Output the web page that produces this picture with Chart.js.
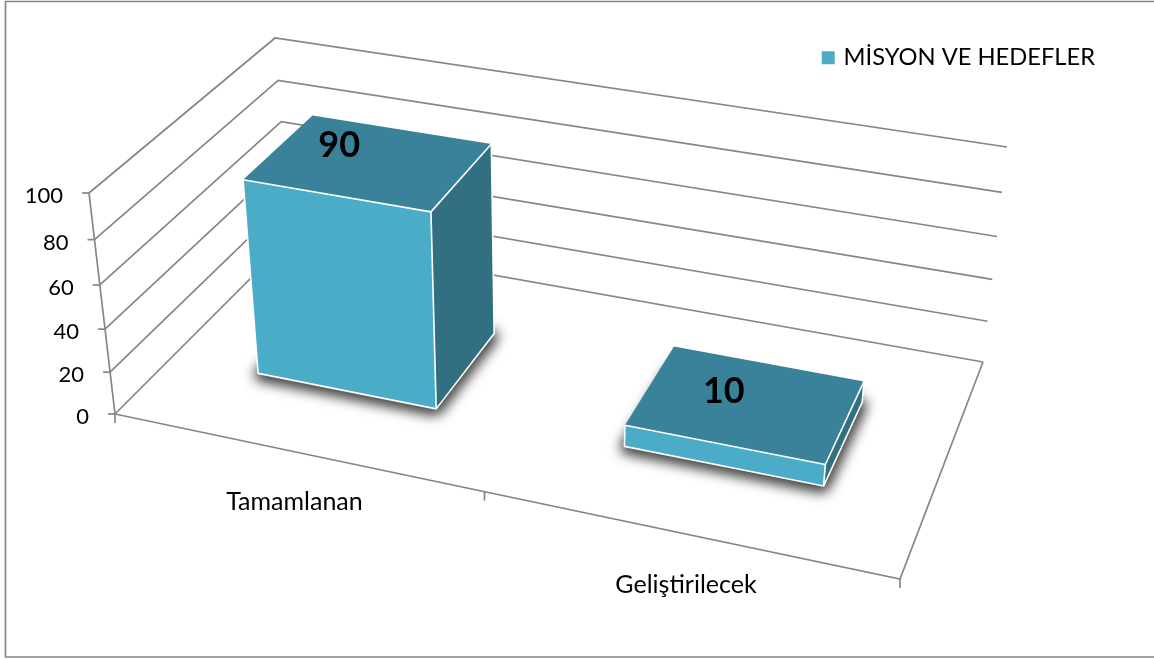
<!DOCTYPE html>
<html>
<head>
<meta charset="utf-8">
<style>html,body{margin:0;padding:0;background:#fff}canvas{display:block}</style>
<script src="https://cdn.jsdelivr.net/npm/chart.js@4"></script>
</head>
<body>
<canvas id="c" width="1154" height="659"></canvas>
<script>
const categories = ['Tamamlanan', 'Geliştirilecek'];
const seriesName = 'MİSYON VE HEDEFLER';
const seriesValues = [90, 10];
const valueTicks = [0, 20, 40, 60, 80, 100];

/* layout of the perspective box: where the corners of the plot box land on the page */
const FLOOR = [[115,414],[900,579],[983,362],[290,239]];
const CEIL  = [[89,193],[926,341],[1007,147],[275,38]];
const PERSPECTIVE_C = -0.065;
const DEPTH = [0.30, 0.70];
const LABEL_SHIFT = [[-30,-16],[-22.5,-12]];
const GRID = '#868686', FRONT = '#4AACC6', TOP = '#3A8299', SIDE = '#326F80';
const FONT = 'Lato, "Open Sans", sans-serif';

function homography(q) {
  const [[x0,y0],[x1,y1],[x2,y2],[x3,y3]] = q;
  const dx1=x1-x2, dx2=x3-x2, sx=x0-x1+x2-x3, dy1=y1-y2, dy2=y3-y2, sy=y0-y1+y2-y3;
  const det=dx1*dy2-dx2*dy1;
  const g=(sx*dy2-dx2*sy)/det, h=(dx1*sy-sx*dy1)/det;
  const a=x1-x0+g*x1, b=x3-x0+h*x3, d=y1-y0+g*y1, e=y3-y0+h*y3;
  return (u,v)=>{const z=g*u+h*v+1;return [(a*u+b*v+x0)/z,(d*u+e*v+y0)/z];};
}
const floorH = homography(FLOOR), ceilH = homography(CEIL);
function project(u,v,w){
  const t = w*(1+PERSPECTIVE_C)/(1+w*PERSPECTIVE_C);
  const p=floorH(u,v), q=ceilH(u,v);
  return [p[0]+(q[0]-p[0])*t, p[1]+(q[1]-p[1])*t];
}
function seg(ctx,pts){ctx.beginPath();pts.forEach((p,i)=>i?ctx.lineTo(p[0],p[1]):ctx.moveTo(p[0],p[1]));}

const box3d = {
  id:'box3d',
  beforeDatasetsDraw(chart){
    const ctx=chart.ctx, area=chart.chartArea, xs=chart.scales.x, ys=chart.scales.y;
    const toW=v=>(ys.getPixelForValue(0)-ys.getPixelForValue(v))/(ys.getPixelForValue(0)-ys.getPixelForValue(ys.max));
    ctx.save();
    /* outer frame */
    ctx.strokeStyle=GRID;ctx.lineWidth=1.7;
    seg(ctx,[[1156,1.5],[5.5,1.5],[5.5,657],[1156,657]]);ctx.stroke();
    /* walls, floor */
    ctx.lineWidth=1.7;
    ys.ticks.forEach(t=>{
      const w=toW(t.value);
      seg(ctx,[project(0,0,w),project(0,1,w),project(1,1,w)]);ctx.stroke();
      const p=project(0,0,w);
      seg(ctx,[[p[0]-7,p[1]],p]);ctx.stroke();
      ctx.fillStyle='#000';ctx.font='22px '+FONT;ctx.textAlign='right';ctx.textBaseline='middle';
      ctx.fillText(String(t.value),p[0]-26,p[1]+3);
    });
    seg(ctx,[project(0,0,0),project(0,0,1)]);ctx.stroke();
    seg(ctx,[project(0,0,0),project(1,0,0),project(1,1,0)]);ctx.stroke();
    for(let i=0;i<=categories.length;i++){
      const p=project(i/categories.length,0,0);
      seg(ctx,[p,[p[0],p[1]+9]]);ctx.stroke();
    }
    categories.forEach((c,i)=>{
      const u=(xs.getPixelForValue(i)-area.left)/area.width;
      const p=project(u,0,0);
      ctx.fillStyle='#000';ctx.font='25px '+FONT;ctx.textAlign='center';ctx.textBaseline='middle';
      ctx.fillText(c,p[0],p[1]+50.5);
    });
    /* bars */
    const meta=chart.getDatasetMeta(0);
    meta.data.forEach((el,i)=>{
      const u0=(el.x-el.width/2-area.left)/area.width, u1=(el.x+el.width/2-area.left)/area.width;
      const w=(el.base-el.y)/area.height;
      const [v0,v1]=DEPTH;
      const A=project(u0,v0,0),B=project(u1,v0,0),C=project(u1,v1,0),D=project(u0,v1,0);
      const E=project(u0,v0,w),F=project(u1,v0,w),G=project(u1,v1,w),H=project(u0,v1,w);
      /* soft cast shadow of the footprint: only the blur reaches the canvas */
      ctx.save();
      const away=4000;
      ctx.shadowColor='rgba(0,0,0,0.85)';ctx.shadowBlur=14;ctx.shadowOffsetX=away;ctx.shadowOffsetY=2;
      ctx.fillStyle='#000';ctx.strokeStyle='#000';ctx.lineWidth=7;ctx.lineJoin='round';
      seg(ctx,[A,B,C,D].map(p=>[p[0]-away,p[1]]));ctx.closePath();ctx.fill();ctx.stroke();
      ctx.restore();
      ctx.lineJoin='round';ctx.strokeStyle='#fff';
      [[[B,C,G,F],SIDE],[[E,F,G,H],TOP],[[A,B,F,E],FRONT]].forEach(([pts,col])=>{
        ctx.fillStyle=col;seg(ctx,pts);ctx.closePath();ctx.fill();
      });
      ctx.lineWidth=1.6;
      seg(ctx,[E,F,G]);ctx.stroke();
      seg(ctx,[E,A,B,C,G]);ctx.stroke();
      seg(ctx,[B,F]);ctx.stroke();
      const L=project((u0+u1)/2,(v0+v1)/2,w);
      ctx.fillStyle='#000';ctx.font='bold 36px '+FONT;ctx.textAlign='center';ctx.textBaseline='middle';
      ctx.fillText(String(seriesValues[i]),L[0]+LABEL_SHIFT[i][0],L[1]+LABEL_SHIFT[i][1]);
    });
    ctx.restore();
    return false;
  }
};

new Chart(document.getElementById('c'),{
  type:'bar',
  data:{labels:categories,datasets:[{label:seriesName,data:seriesValues,backgroundColor:FRONT,borderWidth:0,categoryPercentage:1,barPercentage:0.5}]},
  options:{
    responsive:false,animation:false,
    layout:{padding:{top:36,right:49,left:0,bottom:0}},
    scales:{
      x:{display:false,offset:true},
      y:{display:false,min:0,max:100,ticks:{stepSize:20}}
    },
    plugins:{
      tooltip:{enabled:false},
      legend:{display:true,position:'top',align:'end',
        labels:{usePointStyle:true,pointStyle:'rect',boxWidth:7,boxHeight:13,color:'#000',font:{family:FONT,size:23.7}}}
    }
  },
  plugins:[box3d]
});
</script>
</body>
</html>
